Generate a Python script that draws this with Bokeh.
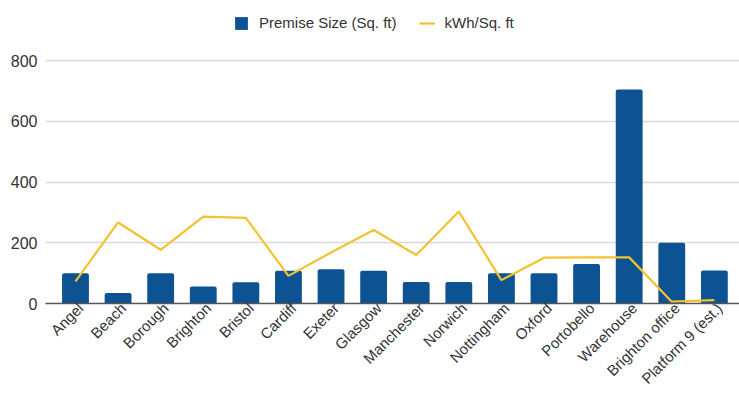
import math
from bokeh.plotting import figure
from bokeh.models import (ColumnDataSource, Range1d, FixedTicker, Legend, LegendItem)
from bokeh.embed import file_html
from bokeh.resources import INLINE

# Sites and their figures
sites = ["Angel", "Beach", "Borough", "Brighton", "Bristol", "Cardiff", "Exeter",
         "Glasgow", "Manchester", "Norwich", "Nottingham", "Oxford", "Portobello",
         "Warehouse", "Brighton office", "Platform 9 (est.)"]
premise_size = [100, 35, 100, 56, 70, 108, 113, 108, 71, 71, 100, 100, 130, 705, 200, 109]
kwh_per_sqft = [73, 267, 177, 286, 282, 91, 168, 242, 160, 303, 77, 151, 152, 152, 6, 11]
y_ticks = [0, 200, 400, 600, 800]

BAR_COLOR = "#0d5293"
LINE_COLOR = "#f3c232"
FONT = "Liberation Sans"
LABEL_SHIFT = 0.12  # slanted labels sit a little right of their bar

idx = list(range(len(sites)))
src = ColumnDataSource(dict(x=idx, size=premise_size, kwh=kwh_per_sqft))

# Frame reaches almost to the top so the legend can sit inside it above the grid
p = figure(width=739, height=395, output_backend="svg", toolbar_location=None,
           x_range=Range1d(-0.704, len(sites) - 0.41), y_range=Range1d(0, 982),
           min_border_left=45, min_border_right=0, min_border_top=5,
           min_border_bottom=92)
p.outline_line_color = None
p.background_fill_color = "white"
p.border_fill_color = "white"

bars = p.vbar(x="x", top="size", width=0.63, source=src, fill_color=BAR_COLOR,
              line_color=None, border_radius=(2, 2, 0, 0))
line = p.line(x="x", y="kwh", source=src, line_color=LINE_COLOR, line_width=2.2)

# Axes
p.xgrid.grid_line_color = None
p.ygrid.ticker = FixedTicker(ticks=y_ticks[1:])
p.ygrid.grid_line_color = "#dadada"
p.ygrid.grid_line_width = 1.5

p.yaxis.ticker = FixedTicker(ticks=y_ticks)
p.yaxis.axis_line_color = None
p.yaxis.major_tick_line_color = None
p.yaxis.minor_tick_line_color = None
p.yaxis.major_tick_out = 0
p.yaxis.major_label_standoff = 8
p.yaxis.major_label_text_font = FONT
p.yaxis.major_label_text_font_size = "16px"
p.yaxis.major_label_text_color = "#333333"

label_pos = [i + LABEL_SHIFT for i in idx]
p.xaxis.ticker = FixedTicker(ticks=label_pos)
p.xaxis.major_label_overrides = {x: s for x, s in zip(label_pos, sites)}
p.xaxis.major_label_orientation = math.pi / 4
p.xaxis.axis_line_color = "#555555"
p.xaxis.axis_line_width = 1.5
p.xaxis.major_tick_line_color = None
p.xaxis.minor_tick_line_color = None
p.xaxis.major_tick_out = 0
p.xaxis.major_label_standoff = 2
p.xaxis.major_label_text_font = FONT
p.xaxis.major_label_text_font_size = "15px"
p.xaxis.major_label_text_color = "#333333"

legend = Legend(items=[LegendItem(label="Premise Size (Sq. ft)", renderers=[bars]),
                       LegendItem(label="kWh/Sq. ft", renderers=[line])],
                orientation="horizontal", location=(188, 272),
                padding=0, margin=0, spacing=22, label_standoff=10,
                glyph_width=16, glyph_height=16,
                border_line_color=None, background_fill_alpha=0,
                label_text_font=FONT, label_text_font_size="15px",
                label_text_color="#333333")
p.add_layout(legend, "center")

open("out.html", "w").write(file_html(p, INLINE))
